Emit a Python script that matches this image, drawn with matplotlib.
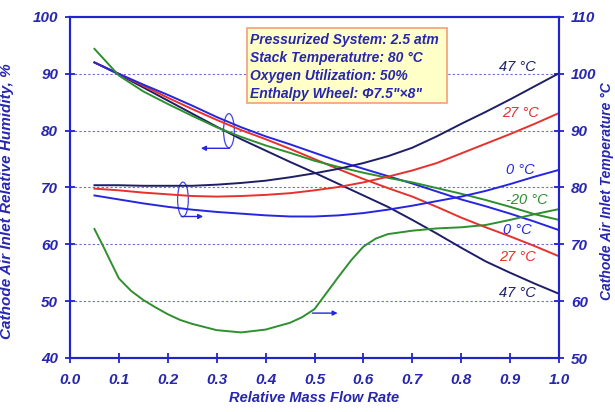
import matplotlib
matplotlib.use("Agg")
import matplotlib.pyplot as plt
from matplotlib.patches import Ellipse, Rectangle

plt.rcParams["font.family"] = ["Liberation Sans", "DejaVu Sans"]

# relative mass flow rate grid
flow = [0.05, 0.10, 0.15, 0.20, 0.25, 0.30, 0.35, 0.40, 0.45, 0.50,
        0.55, 0.60, 0.65, 0.70, 0.75, 0.80, 0.85, 0.90, 0.95, 1.00]

# cathode air inlet relative humidity, % (left axis)
rh_47 = [92.0, 89.9, 87.6, 85.3, 83.0, 80.7, 78.5, 76.5, 74.5, 72.6,
         70.6, 68.6, 66.6, 64.3, 61.9, 59.4, 57.0, 55.0, 53.1, 51.3]
rh_27 = [92.0, 90.0, 87.9, 85.8, 83.8, 81.9, 80.1, 78.5, 76.8, 75.0,
         73.2, 71.5, 69.9, 68.4, 66.6, 64.7, 63.0, 61.4, 59.7, 57.9]
rh_0 = [92.0, 90.0, 88.1, 86.3, 84.4, 82.4, 80.6, 79.0, 77.6, 76.1,
        74.6, 73.3, 72.0, 70.7, 69.3, 67.9, 66.7, 65.4, 64.0, 62.5]
rh_m20 = [94.4, 89.7, 86.9, 84.7, 82.6, 80.6, 78.9, 77.4, 76.1, 74.7,
          73.6, 72.6, 71.7, 70.9, 69.9, 68.9, 67.8, 66.6, 65.3, 64.3]

# cathode air inlet temperature, °C (right axis)
t_47 = [80.4, 80.4, 80.3, 80.3, 80.3, 80.5, 80.8, 81.2, 81.8, 82.5,
        83.3, 84.3, 85.5, 87.0, 89.0, 91.2, 93.3, 95.5, 97.8, 100.1]
t_27 = [79.8, 79.5, 79.1, 78.8, 78.5, 78.4, 78.5, 78.7, 79.0, 79.5,
        80.1, 80.9, 81.9, 83.0, 84.3, 86.0, 87.7, 89.4, 91.2, 93.1]
t_0 = [78.6, 77.9, 77.2, 76.6, 76.1, 75.7, 75.4, 75.1, 74.9, 74.9,
       75.1, 75.5, 76.1, 76.8, 77.6, 78.4, 79.4, 80.6, 81.9, 83.1]
flow_m20 = [0.05, 0.06, 0.07, 0.08, 0.10, 0.125, 0.15, 0.175, 0.20, 0.225,
            0.25, 0.30, 0.35, 0.40, 0.45, 0.475, 0.50, 0.525, 0.55, 0.575,
            0.60, 0.625, 0.65, 0.70, 0.75, 0.80, 0.85, 0.90, 0.95, 1.00]
t_m20 = [72.7, 71.0, 69.3, 67.5, 64.0, 61.8, 60.2, 58.9, 57.7, 56.7,
         56.0, 54.9, 54.5, 55.0, 56.2, 57.2, 58.6, 61.5, 64.4, 67.2,
         69.6, 71.0, 71.8, 72.4, 72.8, 73.0, 73.4, 74.3, 75.3, 76.2]

x_ticks = [0.0, 0.1, 0.2, 0.3, 0.4, 0.5, 0.6, 0.7, 0.8, 0.9, 1.0]
rh_ticks = [40, 50, 60, 70, 80, 90, 100]
t_ticks = [50, 60, 70, 80, 90, 100, 110]

box_lines = ["Pressurized System: 2.5 atm",
             "Stack Temperatutre: 80 \u00b0C",
             "Oxygen Utilization: 50%",
             "Enthalpy Wheel: \u03a67.5\"\u00d78\""]

navy = "#1e1e68"
red = "#e8302c"
blue = "#2626e0"
green = "#2f8f2f"
axcol = "#2222d0"
txtcol = "#2626b0"

fig = plt.figure(figsize=(6.15, 4.12), dpi=100)
ax = fig.add_axes([70 / 615, 1 - 358 / 412, 489 / 615, 341 / 412])
ax2 = ax.twinx()

ax.set_xlim(0, 1)
ax.set_ylim(40, 100)
ax2.set_ylim(50, 110)

for y in [50, 60, 70, 80, 90]:
    ax.axhline(y, color="#6a6ad8", lw=0.8, ls=(0, (2, 2)), zorder=0)

lw = 1.4
ax.plot(flow, rh_47, color=navy, lw=lw)
ax.plot(flow, rh_27, color=red, lw=lw)
ax.plot(flow, rh_0, color=blue, lw=lw)
ax.plot(flow, rh_m20, color=green, lw=lw)
ax2.plot(flow, t_47, color=navy, lw=lw)
ax2.plot(flow, t_27, color=red, lw=lw)
ax2.plot(flow, t_0, color=blue, lw=lw)
ax2.plot(flow_m20, t_m20, color=green, lw=lw)

# ticks and spines
for a in (ax, ax2):
    for s in a.spines.values():
        s.set_color(axcol)
        s.set_linewidth(1.5)
ax.set_xticks(x_ticks)
ax.set_xticklabels([f"{v:.1f}" for v in x_ticks])
ax.set_yticks(rh_ticks)
ax2.set_yticks(t_ticks)
tick_font = dict(fontsize=11, fontweight="bold", fontstyle="italic")
for lab in ax.get_xticklabels() + ax.get_yticklabels() + ax2.get_yticklabels():
    lab.set(color=txtcol, **tick_font)
ax.tick_params(axis="both", direction="inout", length=7, width=1.3,
               color=axcol, pad=5)
ax.tick_params(axis="x", pad=7)
ax2.tick_params(axis="y", direction="inout", length=7, width=1.3,
                color=axcol, pad=5)

lab_font = dict(fontweight="bold", fontstyle="italic", color=txtcol)
ax.set_xlabel("Relative Mass Flow Rate", fontsize=10.5, labelpad=3, **lab_font)
ax.set_ylabel("Cathode Air Inlet Relative Humidity, %", fontsize=11, **lab_font)
ax.yaxis.set_label_coords(-0.115, 0.46)
ax2.set_ylabel("Cathode Air Inlet Temperature \u00b0C", fontsize=10, **lab_font)
ax2.yaxis.set_label_coords(1.084, 0.49)

# info box
ax.add_patch(Rectangle((0.362, 84.9), 0.409, 13.2, facecolor="#ffffc8",
                       edgecolor="#f4a07a", lw=1.2, zorder=3))
for i, line in enumerate(box_lines):
    ax.text(0.368, 95.9 - i * 3.17, line, fontsize=10, fontstyle="italic",
            fontweight="bold", color=txtcol, va="center", ha="left", zorder=4)

# curve labels
curve_labels = [("47 \u00b0C", 0.914, 91.2, navy), ("27 \u00b0C", 0.922, 83.1, red),
                ("0 \u00b0C", 0.92, 73.1, blue), ("-20 \u00b0C", 0.934, 67.8, green),
                ("0 \u00b0C", 0.914, 62.5, blue), ("27 \u00b0C", 0.916, 57.8, red),
                ("47 \u00b0C", 0.914, 51.4, navy)]
for txt, xx, yy, c in curve_labels:
    ax.text(xx, yy, txt, color=c, fontsize=10.5, fontstyle="italic",
            ha="center", va="center", zorder=4)

# axis indicators
ax.add_patch(Ellipse((0.325, 80.0), 0.022, 6.0, fill=False, color="#4444e0", lw=0.9))
ax.add_patch(Ellipse((0.231, 67.9), 0.022, 6.1, fill=False, color="#4444e0", lw=0.9))
arw = dict(arrowstyle="-|>", color=blue, lw=1.0, mutation_scale=7)
ax.annotate("", xy=(0.262, 76.9), xytext=(0.332, 76.9), arrowprops=arw)
ax.annotate("", xy=(0.278, 64.9), xytext=(0.222, 64.9), arrowprops=arw)
ax.annotate("", xy=(0.553, 47.9), xytext=(0.49, 47.9), arrowprops=arw)

fig.savefig("out.png", dpi=100)
